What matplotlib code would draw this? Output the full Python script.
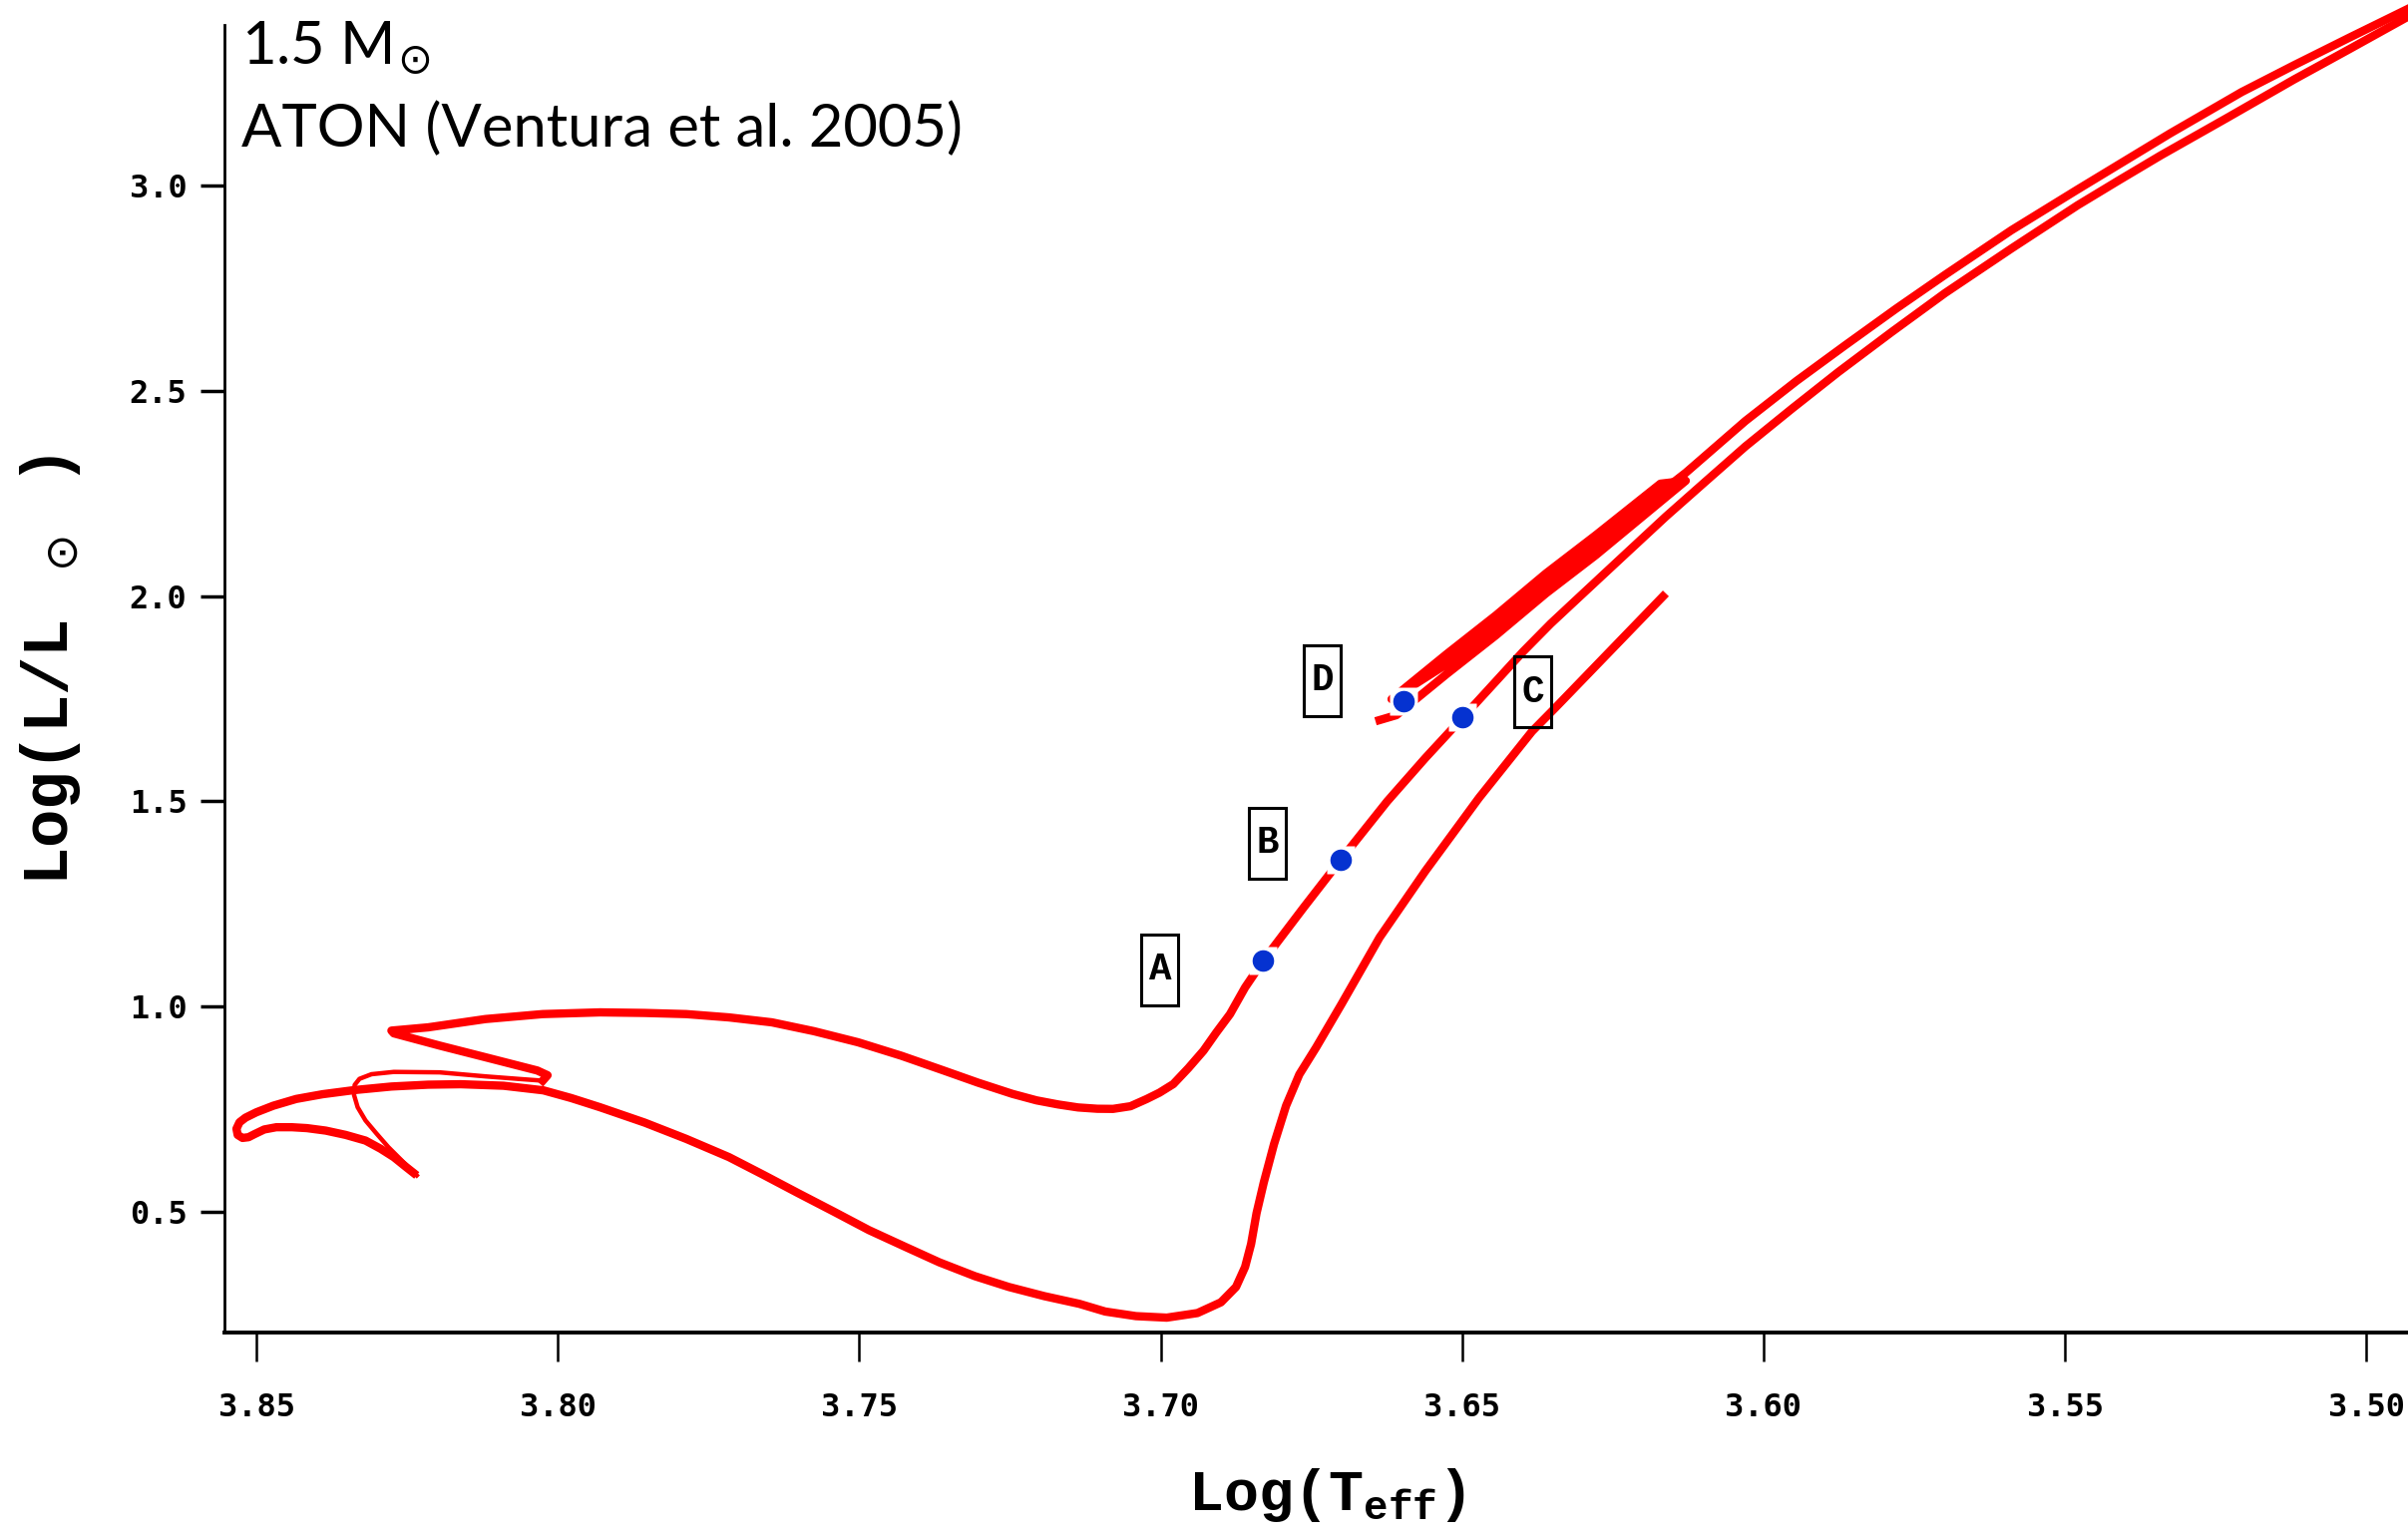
import matplotlib
matplotlib.use("Agg")
import matplotlib.pyplot as plt
from matplotlib.patches import Rectangle
from matplotlib.transforms import ScaledTranslation

# ATON 1.5 Msun track (Ventura et al. 2005)
# pre-main sequence: down the Hayashi line, across the Henyey part to the ZAMS
pms_logt = [3.6162, 3.6346, 3.6384, 3.6472, 3.6561, 3.6637, 3.6700, 3.6742,
            3.6770, 3.6792, 3.6812, 3.6829, 3.6841, 3.6850, 3.6860, 3.6875,
            3.6900, 3.6939, 3.6990, 3.7041, 3.7092, 3.7135, 3.7193, 3.7252,
            3.7308, 3.7367, 3.7423, 3.7484, 3.7542, 3.7601, 3.7659, 3.7716,
            3.7787, 3.7856, 3.7930, 3.7978, 3.8024, 3.8090, 3.8161, 3.8215,
            3.8276, 3.8337, 3.8390, 3.8434, 3.8472, 3.8500, 3.8518, 3.8528,
            3.8533, 3.8531, 3.8523, 3.8513, 3.8503, 3.8487, 3.8467, 3.8441,
            3.8416, 3.8385, 3.8352, 3.8319, 3.8294, 3.8272, 3.8253, 3.8234]
pms_logl = [2.0066, 1.7270, 1.6704, 1.5083, 1.3301, 1.1680, 1.0059, 0.9006,
            0.8345, 0.7582, 0.6647, 0.5711, 0.4963, 0.4214, 0.3653, 0.3166,
            0.2792, 0.2530, 0.2418, 0.2455, 0.2567, 0.2755, 0.2942, 0.3166,
            0.3428, 0.3765, 0.4139, 0.4551, 0.5000, 0.5449, 0.5898, 0.6329,
            0.6774, 0.7171, 0.7545, 0.7770, 0.7957, 0.8069, 0.8106, 0.8095,
            0.8050, 0.7964, 0.7863, 0.7747, 0.7582, 0.7422, 0.7291, 0.7178,
            0.7021, 0.6871, 0.6797, 0.6815, 0.6890, 0.7003, 0.7058, 0.7058,
            0.7036, 0.6976, 0.6871, 0.6733, 0.6534, 0.6329, 0.6104, 0.5884]

# main sequence (drawn thinner)
ms_logt = [3.8234, 3.8258, 3.8281, 3.8301, 3.8319, 3.8332, 3.8338, 3.8337,
           3.8329, 3.8309, 3.8272, 3.8196, 3.8120, 3.8063, 3.8025]
ms_logl = [0.5884, 0.6235, 0.6572, 0.6908, 0.7223, 0.7545, 0.7844, 0.8088,
           0.8237, 0.8350, 0.8406, 0.8395, 0.8297, 0.8233, 0.8192]

# hook, subgiant branch and red giant branch up to the tip
rgb_logt = [3.8025, 3.8017, 3.8034, 3.8120, 3.8196, 3.8272, 3.8276, 3.8215,
            3.8120, 3.8025, 3.7930, 3.7856, 3.7787, 3.7716, 3.7645, 3.7575,
            3.7502, 3.7430, 3.7360, 3.7303, 3.7246, 3.7206, 3.7170, 3.7137,
            3.7105, 3.7079, 3.7050, 3.7023, 3.7002, 3.6979, 3.6954, 3.6929,
            3.6908, 3.6885, 3.6860, 3.6830, 3.6763, 3.6701, 3.6624, 3.6561,
            3.6499, 3.6399, 3.6353, 3.6306, 3.6234, 3.6162, 3.6096, 3.6030,
            3.5953, 3.5876, 3.5788, 3.5699, 3.5589, 3.5479, 3.5410, 3.5341,
            3.5232, 3.5120, 3.5028, 3.4932, 3.4876]
rgb_logl = [0.8192, 0.8325, 0.8440, 0.8763, 0.9047, 0.9346, 0.9412, 0.9492,
            0.9694, 0.9815, 0.9857, 0.9843, 0.9815, 0.9734, 0.9614, 0.9398,
            0.9128, 0.8799, 0.8440, 0.8144, 0.7871, 0.7713, 0.7613, 0.7540,
            0.7508, 0.7505, 0.7570, 0.7747, 0.7900, 0.8110, 0.8499, 0.8922,
            0.9360, 0.9813, 1.0464, 1.1113, 1.2409, 1.3583, 1.5003, 1.6055,
            1.7040, 1.8645, 1.9330, 1.9974, 2.0958, 2.1939, 2.2796, 2.3649,
            2.4566, 2.5460, 2.6430, 2.7384, 2.8469, 2.9525, 3.0138, 3.0741,
            3.1647, 3.2590, 3.3331, 3.4113, 3.4566]

# core He burning (the dense band near D) and early AGB
agb_logt = [3.6637, 3.6609, 3.6526, 3.6444, 3.6361, 3.6278, 3.6195, 3.6129,
            3.6171, 3.6278, 3.6361, 3.6444, 3.6526, 3.6593, 3.6617, 3.6526,
            3.6444, 3.6361, 3.6278, 3.6195, 3.6129, 3.6030, 3.5945, 3.5865,
            3.5780, 3.5699, 3.5589, 3.5479, 3.5326, 3.5207, 3.5120, 3.5028,
            3.4932, 3.4876]
agb_logl = [1.6979, 1.7100, 1.8097, 1.9045, 2.0066, 2.1002, 2.2010, 2.2812,
            2.2740, 2.1488, 2.0552, 1.9531, 1.8583, 1.7781, 1.7489, 1.8340,
            1.9288, 2.0309, 2.1245, 2.2253, 2.3007, 2.4270, 2.5247, 2.6108,
            2.7006, 2.7829, 2.8915, 2.9910, 3.1272, 3.2283, 3.2938, 3.3612,
            3.4304, 3.4716]

# marked models and their labels
pt_names = ["A", "B", "C", "D"]
pt_logt = [3.6830, 3.6701, 3.6499, 3.6597]
pt_logl = [1.1113, 1.3583, 1.7040, 1.7430]
lab_logt = [3.7001, 3.6823, 3.6383, 3.6732]
lab_logl = [1.0898, 1.3980, 1.7660, 1.7950]

xticks = [3.85, 3.80, 3.75, 3.70, 3.65, 3.60, 3.55, 3.50]
yticks = [0.5, 1.0, 1.5, 2.0, 2.5, 3.0]

fig = plt.figure(figsize=(24.14, 15.41), dpi=100)
ax = fig.add_axes([0.0932, 0.1330, 0.9068, 0.8508])

red = "#ff0000"
ax.plot(pms_logt, pms_logl, color=red, lw=6, solid_capstyle="butt",
        solid_joinstyle="round", clip_on=False)
ax.plot(ms_logt, ms_logl, color=red, lw=3.2, solid_joinstyle="round", clip_on=False)
ax.plot(rgb_logt, rgb_logl, color=red, lw=6, solid_joinstyle="round", clip_on=False)
ax.plot(agb_logt, agb_logl, color=red, lw=6, solid_joinstyle="round", clip_on=False)

# blue dots sit on a small white patch
ax.plot(pt_logt, pt_logl, "s", ms=20, mfc="white", mec="none", zorder=4)
ax.plot(pt_logt, pt_logl, "o", ms=14.5, mfc="#0532d0", mec="#0532d0", zorder=5)

# boxed letters
bw, bh = 0.37, 0.71
for name, lx, ly in zip(pt_names, lab_logt, lab_logl):
    trans = fig.dpi_scale_trans + ScaledTranslation(lx, ly, ax.transData)
    ax.add_patch(Rectangle((-bw / 2, -bh / 2), bw, bh, transform=trans,
                           fill=False, ec="black", lw=2.2, zorder=6, clip_on=False))
    ax.text(lx, ly, name, ha="center", va="center", fontsize=27,
            family="Liberation Mono", weight="bold", zorder=7)

ax.set_xlim(3.8553, 3.4931)
ax.set_ylim(0.2054, 3.392)
ax.set_xticks(xticks)
ax.set_xticklabels(["%.2f" % t for t in xticks])
ax.set_yticks(yticks)
ax.set_yticklabels(["%.1f" % t for t in yticks])

for s in ["top", "right"]:
    ax.spines[s].set_visible(False)
ax.spines["bottom"].set_linewidth(2.8)
ax.spines["left"].set_linewidth(2.0)
ax.tick_params(axis="x", direction="out", length=21, width=1.8, pad=22, labelsize=23)
ax.tick_params(axis="y", direction="out", length=17, width=2.5, pad=10, labelsize=23)
for lab in ax.get_xticklabels() + ax.get_yticklabels():
    lab.set_family("DejaVu Sans Mono")
    lab.set_weight("bold")

ax.set_xlabel(r"Log(T$_\mathregular{eff}$)", fontsize=42, family="Liberation Mono",
              weight="bold")
ax.set_ylabel(r"Log(L/L $_\odot$ )", fontsize=46, family="Liberation Mono",
              weight="bold")
ax.xaxis.set_label_coords(0.5048, -0.102)
ax.yaxis.set_label_coords(-0.065, 0.5065)

fig.text(0.1002, 0.9578, r"1.5 M$_{\!\odot}$", fontsize=43, family="Lato",
         va="baseline")
fig.text(0.1002, 0.9046, "ATON (Ventura et al. 2005)", fontsize=43, family="Lato",
         va="baseline")

fig.savefig("out.png", dpi=100)
